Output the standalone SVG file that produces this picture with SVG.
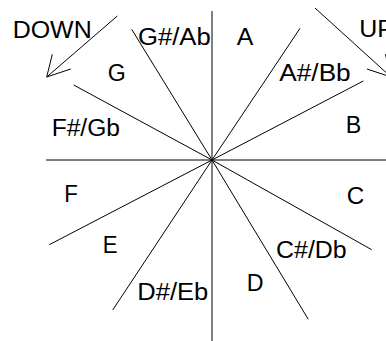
<svg xmlns="http://www.w3.org/2000/svg" width="386" height="341" viewBox="0 0 386 341">
<style>
.l{stroke:#000;stroke-width:1;fill:none}
.t{font-family:"Liberation Sans",Arial,sans-serif;font-size:23px;fill:#000}
</style>
<rect width="386" height="341" fill="#fff"/>
<g id="connectors" class="l">
<line x1="46" y1="160" x2="386" y2="160"/>
<line x1="212" y1="11" x2="212" y2="341"/>
<line x1="73.7" y1="85" x2="212" y2="160"/>
<line x1="131.7" y1="29.3" x2="212" y2="160"/>
<line x1="300" y1="28.3" x2="212" y2="160"/>
<line x1="363.3" y1="81" x2="212" y2="160"/>
<line x1="49.3" y1="244.7" x2="212" y2="160"/>
<line x1="112.7" y1="310" x2="212" y2="160"/>
<line x1="308.3" y1="319.3" x2="212" y2="160"/>
<line x1="371.7" y1="249.7" x2="212" y2="160"/>
</g>
<g id="down-arrow" class="l">
<line x1="117.3" y1="16" x2="46.7" y2="77"/>
<polyline points="52.3,54.3 46.7,77 70.7,69"/>
</g>
<g id="up-arrow" class="l">
<line x1="315" y1="8" x2="391" y2="77"/>
<polyline points="385.4,54.3 391,77 367,69"/>
</g>
<g id="label-down"><text class="t" x="12.7" y="37.7" textLength="79" lengthAdjust="spacingAndGlyphs">DOWN</text></g>
<g id="label-up"><text class="t" x="359.3" y="36.7" textLength="34.7" lengthAdjust="spacingAndGlyphs">UP</text></g>
<g id="label-gsharp"><text class="t" x="138" y="45" textLength="72.7" lengthAdjust="spacingAndGlyphs">G#/Ab</text></g>
<g id="label-a"><text class="t" x="236.7" y="45" textLength="16.6" lengthAdjust="spacingAndGlyphs">A</text></g>
<g id="label-g"><text class="t" x="107.7" y="80.5" textLength="18" lengthAdjust="spacingAndGlyphs">G</text></g>
<g id="label-asharp"><text class="t" x="279.3" y="81" textLength="71.4" lengthAdjust="spacingAndGlyphs">A#/Bb</text></g>
<g id="label-fsharp"><text class="t" x="51.7" y="136.3" textLength="68.3" lengthAdjust="spacingAndGlyphs">F#/Gb</text></g>
<g id="label-b"><text class="t" x="345.7" y="132.7" textLength="15.5" lengthAdjust="spacingAndGlyphs">B</text></g>
<g id="label-f"><text class="t" x="64.3" y="201.7" textLength="13.6" lengthAdjust="spacingAndGlyphs">F</text></g>
<g id="label-c"><text class="t" x="346.7" y="204.3" textLength="17.5" lengthAdjust="spacingAndGlyphs">C</text></g>
<g id="label-e"><text class="t" x="102.7" y="252.7" textLength="14.8" lengthAdjust="spacingAndGlyphs">E</text></g>
<g id="label-csharp"><text class="t" x="276" y="258" textLength="70.7" lengthAdjust="spacingAndGlyphs">C#/Db</text></g>
<g id="label-d"><text class="t" x="246.7" y="291" textLength="16.8" lengthAdjust="spacingAndGlyphs">D</text></g>
<g id="label-dsharp"><text class="t" x="137.3" y="300" textLength="71" lengthAdjust="spacingAndGlyphs">D#/Eb</text></g>
</svg>
